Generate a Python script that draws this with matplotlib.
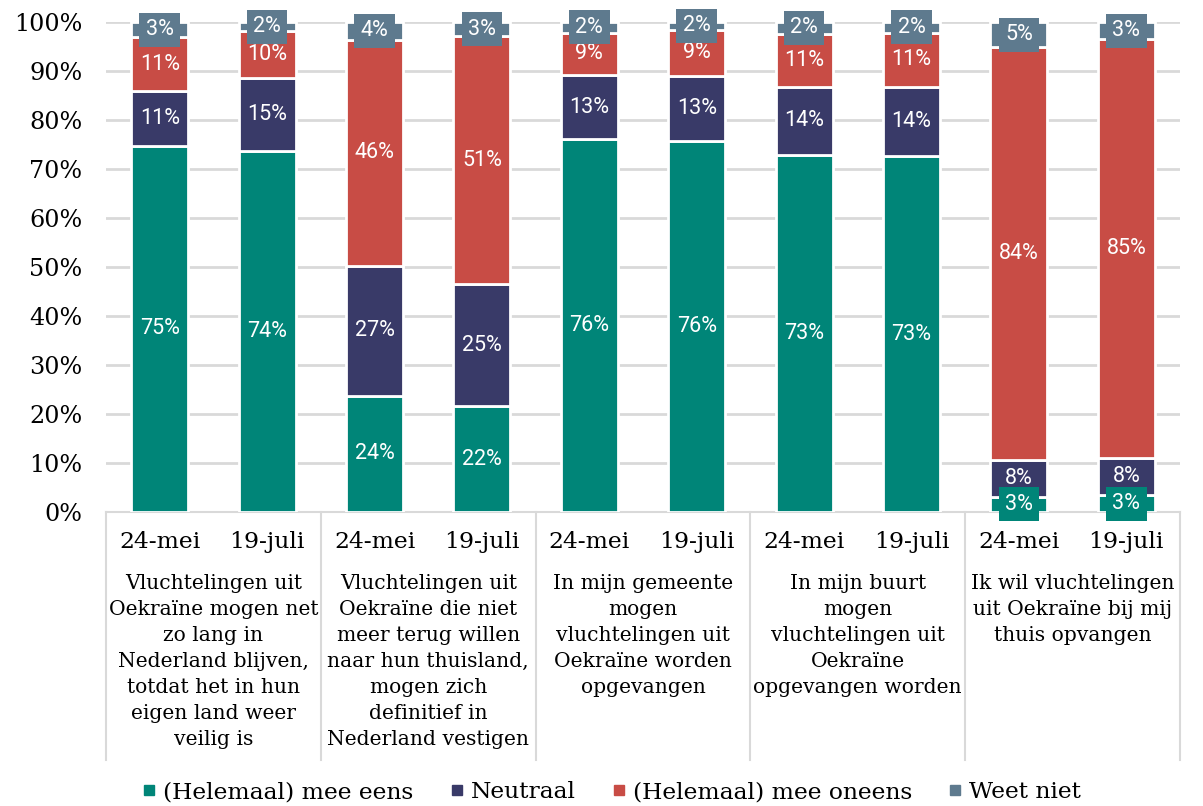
import matplotlib
import matplotlib.pyplot as plt
from matplotlib.lines import Line2D

# data (percentages, bottom to top)
dates = ["24-mei", "19-juli"]
groups = [
    "Vluchtelingen uit\nOekraïne mogen net\nzo lang in\nNederland blijven,\ntotdat het in hun\neigen land weer\nveilig is",
    "Vluchtelingen uit\nOekraïne die niet\nmeer terug willen\nnaar hun thuisland,\nmogen zich\ndefinitief in\nNederland vestigen",
    "In mijn gemeente\nmogen\nvluchtelingen uit\nOekraïne worden\nopgevangen",
    "In mijn buurt\nmogen\nvluchtelingen uit\nOekraïne\nopgevangen worden",
    "Ik wil vluchtelingen\nuit Oekraïne bij mij\nthuis opvangen",
]
series = ["(Helemaal) mee eens", "Neutraal", "(Helemaal) mee oneens", "Weet niet"]
eens = [74.7, 73.6, 23.7, 21.6, 76.1, 75.7, 72.9, 72.6, 3.1, 3.4]
neutraal = [11.2, 14.9, 26.6, 24.9, 13.1, 13.3, 13.9, 14.1, 7.6, 7.7]
oneens = [11.0, 9.6, 46.1, 50.6, 8.6, 9.4, 10.8, 11.1, 84.1, 85.4]
weet_niet = [3.1, 1.9, 3.6, 2.9, 2.2, 1.6, 2.4, 2.2, 5.2, 3.4]
colors = ["#008578", "#393a68", "#c84c45", "#5e7a8e"]

serif = "DejaVu Serif"
sans = "Roboto"

fig = plt.figure(figsize=(12.03, 8.06), dpi=100)
ax = fig.add_axes([106 / 1203, 294 / 806, 1074 / 1203, 490 / 806])

x = list(range(len(eens)))
bottom = [0.0] * len(x)
for vals, col in zip([eens, neutraal, oneens, weet_niet], colors):
    ax.bar(x, vals, bottom=bottom, width=0.53, color=col,
           edgecolor="white", linewidth=2, zorder=3)
    for i, v in enumerate(vals):
        yc = bottom[i] + v / 2
        lbl = f"{round(v)}%"
        kw = dict(ha="center", va="center", color="white", fontsize=15.5,
                  family=sans, zorder=5)
        if v < 6:
            # kleine segmenten: label in een kader met de segmentkleur
            ax.text(i, yc, lbl, clip_on=False,
                    bbox=dict(boxstyle="square,pad=0.3", fc=col, ec="none"), **kw)
        else:
            ax.text(i, yc, lbl, **kw)
    bottom = [b + v for b, v in zip(bottom, vals)]

ax.set_xlim(-0.5, 9.5)
ax.set_ylim(0, 100)
ax.set_yticks(range(0, 101, 10))
ax.set_yticklabels([f"{t}%" for t in range(0, 101, 10)], family=serif, fontsize=17.2)
ax.tick_params(axis="y", length=0, pad=17)
ax.set_xticks([])
ax.grid(axis="y", color="#d9d9d9", linewidth=2, zorder=0)
for s in ["left", "right", "top"]:
    ax.spines[s].set_visible(False)
ax.spines["bottom"].set_color("#d9d9d9")
ax.spines["bottom"].set_linewidth(1.5)

# twee niveaus op de categorie-as
tr = ax.get_xaxis_transform()
for i in x:
    ax.text(i, -0.061, dates[i % 2], transform=tr, ha="center", va="center",
            family=serif, fontsize=16.9)
for g, txt in enumerate(groups):
    ax.text(2 * g + 0.5, -0.127, txt, transform=tr, ha="center", va="top",
            family=serif, fontsize=14.6, linespacing=1.46)
for sx in [-0.5, 1.5, 3.5, 5.5, 7.5, 9.5]:
    ax.plot([sx, sx], [0, -0.506], transform=tr, color="#d9d9d9",
            linewidth=1.5, clip_on=False)

handles = [Line2D([], [], marker="s", linestyle="none", color=c, markersize=7)
           for c in colors]
fig.legend(handles, series, loc="center", bbox_to_anchor=(0.508, 0.017), ncol=4,
           frameon=False, prop={"family": serif, "size": 16.8},
           handletextpad=0.25, columnspacing=1.5, handlelength=0.7)

plt.savefig("out.png", dpi=100)
